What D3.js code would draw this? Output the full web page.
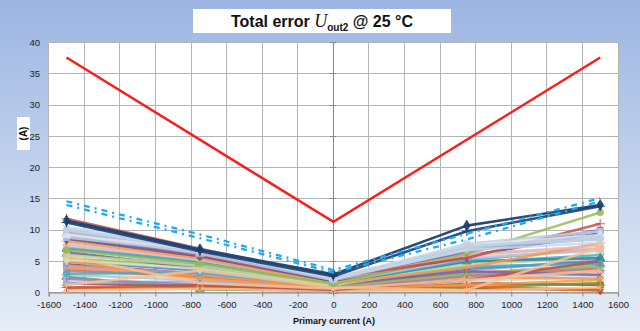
<!DOCTYPE html>
<html><head><meta charset="utf-8">
<script src="https://cdn.jsdelivr.net/npm/d3@7/dist/d3.min.js"></script>
<style>html,body{margin:0;padding:0;background:#fff}svg{display:block}</style>
</head><body>
<svg id="c" width="640" height="331"></svg>
<script>
// ---------------- data ----------------
const xValues = [-1500, -750, 0, 750, 1500];
const redX = [-1500, 0, 1500];
const redY = [37.6, 11.3, 37.6];
const dashA = [14.6, 9.3, 3.6, 9.4, 15.1];
const dashB = [14.0, 8.7, 3.2, 8.5, 14.6];
const seriesValues = [
  [4.5, 3.0, 0.9, 0.6, 0.5],
  [1.5, 1.0, 0.4, 1.5, 1.2],
  [2.5, 0.5, 0.3, 0.8, 1.5],
  [0.6, 0.8, 0.5, 1.0, 0.3],
  [0.3, 0.6, 0.3, 0.3, 0.8],
  [2.0, 1.5, 0.5, 1.8, 2.5],
  [2.8, 2.0, 0.7, 2.2, 3.0],
  [3.2, 2.2, 0.6, 2.5, 3.2],
  [3.8, 2.5, 0.8, 2.8, 4.0],
  [1.5, 1.8, 0.6, 3.0, 4.5],
  [3.5, 2.6, 0.9, 3.2, 3.8],
  [4.0, 2.8, 0.8, 2.5, 2.2],
  [4.3, 3.0, 1.0, 3.5, 5.2],
  [2.2, 1.2, 0.5, 2.7, 3.5],
  [5.0, 3.5, 1.0, 3.8, 5.0],
  [5.5, 4.0, 1.0, 3.0, 4.2],
  [6.2, 4.3, 1.3, 4.2, 4.6],
  [6.5, 3.8, 1.2, 3.4, 2.8],
  [5.0, 2.2, 0.7, 1.2, 2.0],
  [3.0, 3.2, 1.0, 4.8, 6.0],
  [0.8, 1.2, 0.4, 2.0, 5.0],
  [5.2, 3.8, 1.1, 6.0, 6.5],
  [6.0, 4.3, 1.2, 4.5, 5.5],
  [7.0, 4.8, 1.5, 5.0, 5.5],
  [7.2, 5.0, 1.6, 5.2, 7.0],
  [7.8, 5.2, 1.6, 5.5, 6.8],
  [7.5, 5.4, 1.8, 6.3, 7.0],
  [8.2, 5.5, 1.4, 4.0, 7.9],
  [8.6, 5.8, 1.8, 5.8, 9.5],
  [9.0, 6.0, 2.0, 6.5, 10.0],
  [9.5, 6.2, 2.0, 6.0, 7.5],
  [5.8, 1.5, 0.6, 2.0, 3.5],
  [1.2, 3.5, 0.8, 0.4, 7.2],
  [6.8, 4.6, 1.4, 6.2, 12.8],
  [11.8, 7.0, 2.4, 5.5, 11.0],
  [9.8, 6.5, 2.0, 7.0, 8.6],
  [8.8, 6.6, 2.1, 7.8, 9.8],
  [9.2, 6.9, 2.4, 7.6, 9.2],
  [10.2, 6.8, 2.2, 7.2, 9.0],
  [10.5, 7.0, 2.2, 6.8, 8.0],
  [10.0, 7.0, 2.3, 7.5, 8.5],
  [11.2, 6.6, 2.6, 9.8, 13.8],
  [11.5, 6.9, 2.9, 10.7, 14.0]
];
const xTickValues = [-1600,-1400,-1200,-1000,-800,-600,-400,-200,0,200,400,600,800,1000,1200,1400,1600];
const yTickValues = [0,5,10,15,20,25,30,35,40];

// ---------------- styles ----------------
const seriesColors = [
  "#953735","#a94442","#77933c","#e46c0a","#fac090","#b7dee8","#92cddc","#fcd5b5",
  "#d99694","#8eb4e3","#cd7371","#f79646","#b2a2c7","#9983b5","#4f81bd","#9bbb59",
  "#4bacc6","#8064a2","#f79646","#4bacc6","#c0504d","#d7e4bd","#c3d69b","#31859c",
  "#4bacc6","#ccc1da","#e6b9b8","#f79646","#604a7b","#8064a2","#e6b9b8","#fac090",
  "#fac090","#9bbb59","#c0504d","#95b3d7","#b9cde5","#dce6f2","#b9cde5","#c6d9f1",
  "#c6d0dc","#1f497d","#1f3f6e"
];
const strongFrom = 41;
const markerTypes = [d3.symbolDiamond, d3.symbolSquare, d3.symbolTriangle, d3.symbolTimes, d3.symbolAsterisk, d3.symbolCircle, d3.symbolPlus];

const svg = d3.select("#c");
const defs = svg.append("defs");
const g1 = defs.append("linearGradient").attr("id","bg").attr("x1",0).attr("y1",0).attr("x2",0).attr("y2",1);
g1.append("stop").attr("offset","0%").attr("stop-color","#9cb5e2");
g1.append("stop").attr("offset","100%").attr("stop-color","#e6edf7");
svg.append("rect").attr("width",640).attr("height",331).attr("fill","url(#bg)");

const L = 48.7, R = 618, T = 42.5, B = 292.5;
const x = d3.scaleLinear().domain([-1600,1600]).range([L,R]);
const y = d3.scaleLinear().domain([0,40]).range([B,T]);

svg.append("rect").attr("x",L).attr("y",T).attr("width",R-L).attr("height",B-T).attr("fill","#fff");

// grid
const grid = svg.append("g").attr("stroke","#b4b4b4").attr("stroke-width",1).attr("shape-rendering","crispEdges");
xTickValues.forEach(v => grid.append("line").attr("x1",x(v)).attr("x2",x(v)).attr("y1",T).attr("y2",B));
yTickValues.forEach(v => grid.append("line").attr("x1",L).attr("x2",R).attr("y1",y(v)).attr("y2",y(v)));

// axes
const xAxis = d3.axisBottom(x).tickValues(xTickValues).tickSize(4).tickFormat(d => String(d));
const gx = svg.append("g").attr("transform",`translate(0,${B})`).call(xAxis);
gx.select(".domain").attr("stroke","#868686");
gx.selectAll(".tick line").attr("stroke","#868686");
gx.selectAll("text").attr("font-family","Liberation Sans, Arial, sans-serif").attr("font-size","9.5px").attr("fill","#222").attr("dy","0.9em");

// vertical axis line at x=0 with ticks
const ga = svg.append("g").attr("stroke","#868686").attr("shape-rendering","crispEdges");
ga.append("line").attr("x1",x(0)).attr("x2",x(0)).attr("y1",T).attr("y2",B);
yTickValues.forEach(v => ga.append("line").attr("x1",x(0)-3).attr("x2",x(0)+3).attr("y1",y(v)).attr("y2",y(v)));

// y labels on left
svg.append("g").selectAll("text").data(yTickValues).join("text")
  .attr("x",40).attr("y",d=>y(d)).attr("dy","0.35em").attr("text-anchor","end")
  .attr("font-family","Liberation Sans, Arial, sans-serif").attr("font-size","9.5px").attr("fill","#222")
  .text(d=>d);

// series
const line = d3.line().x((d,i)=>x(xValues[i])).y(d=>y(d));
const sg = svg.append("g");
seriesValues.forEach((vals,k) => {
  const col = seriesColors[k % seriesColors.length];
  const strong = k >= strongFrom;
  sg.append("path").attr("d", line(vals)).attr("fill","none").attr("stroke",col)
    .attr("stroke-width",2.6).attr("stroke-linejoin","round").attr("opacity", strong?0.95:0.85);
  const sym = d3.symbol().type(markerTypes[k % markerTypes.length]).size(34);
  vals.forEach((v,i) => {
    sg.append("path").attr("d",sym()).attr("transform",`translate(${x(xValues[i])},${y(v)})`)
      .attr("fill",col).attr("stroke",col).attr("stroke-width",1).attr("opacity",strong?0.95:0.85);
  });
});
// dash-dot series
[dashA, dashB].forEach(vals => {
  sg.append("path").attr("d", line(vals)).attr("fill","none").attr("stroke","#1eaaf0")
    .attr("stroke-width",2.3).attr("stroke-dasharray","6,5,2,5");
});
// red
const redLine = d3.line().x((d,i)=>x(redX[i])).y(d=>y(d));
sg.append("path").attr("d", redLine(redY)).attr("fill","none").attr("stroke","#ff1a1a").attr("stroke-width",2.4);

// title
svg.append("rect").attr("x",193).attr("y",9).attr("width",258).attr("height",24).attr("fill","#fff");
const title = svg.append("text").attr("x",322).attr("y",27).attr("text-anchor","middle")
  .attr("font-family","Liberation Sans, Arial, sans-serif").attr("font-weight","bold").attr("font-size","16px").attr("fill","#111");
title.append("tspan").text("Total error ");
title.append("tspan").attr("font-family","Liberation Serif, Times New Roman, serif").attr("font-style","italic").attr("font-weight","normal").attr("font-size","18px").text("U");
title.append("tspan").attr("font-size","10px").attr("dy","4").text("out2");
title.append("tspan").attr("dy","-4").text(" @ 25 °C");

// y axis title
svg.append("rect").attr("x",17).attr("y",117).attr("width",13).attr("height",33).attr("fill","#fff");
svg.append("text").attr("transform","translate(27,133.5) rotate(-90)").attr("text-anchor","middle")
  .attr("font-family","Liberation Sans, Arial, sans-serif").attr("font-weight","bold").attr("font-size","10px").attr("fill","#111").text("(A)");

// x axis title
svg.append("text").attr("x",334).attr("y",324).attr("text-anchor","middle")
  .attr("font-family","Liberation Sans, Arial, sans-serif").attr("font-weight","bold").attr("font-size","9px").attr("fill","#111").text("Primary current (A)");
</script>
</body></html>
